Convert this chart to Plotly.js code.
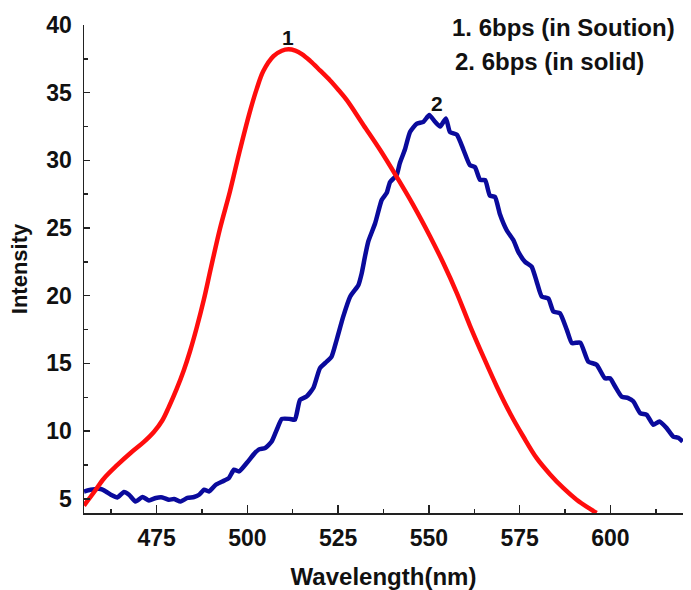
<!DOCTYPE html>
<html>
<head>
<meta charset="utf-8">
<script src="https://cdn.plot.ly/plotly-3.0.1.min.js"></script>
<style>html,body{margin:0;padding:0;background:#fff;}#chart{width:691px;height:590px;}</style>
</head>
<body>
<div id="chart"></div>
<script>
// Curve 1: 6bps in solution (red)
const solutionWavelength = [455, 457.8, 460.5, 464.2, 467.9, 471.5, 474.3, 476.6, 478.4, 480.5, 482.5, 484.2, 486, 488, 490, 492.5, 495.2, 497.8, 500.7, 502.6, 504.4, 507.2, 509.5, 511.3, 513.2, 515, 517.3, 520, 522.8, 525.1, 527.4, 532, 536.5, 541.1, 545.7, 550.3, 554, 557.7, 561.3, 565, 568.7, 572.4, 576, 579.7, 583.4, 587, 590.7, 594.4, 596.2];
const solutionIntensity = [4.5, 5.5, 6.5, 7.5, 8.4, 9.2, 9.95, 10.8, 11.8, 13.1, 14.5, 15.9, 17.6, 19.7, 22.1, 25.0, 27.7, 30.6, 33.6, 35.3, 36.6, 37.7, 38.1, 38.2, 38.1, 37.85, 37.35, 36.65, 35.9, 35.2, 34.45, 32.6, 30.8, 28.8, 26.7, 24.4, 22.4, 20.2, 17.8, 15.5, 13.3, 11.3, 9.6, 8.0, 6.8, 5.8, 4.93, 4.25, 3.95];

// Curve 2: 6bps in solid (blue)
const solidWavelength = [455, 456.8, 459.6, 461, 462.4, 464.2, 466, 467.4, 469.2, 471.1, 472.9, 474.8, 476.6, 478.4, 479.8, 481.6, 483.5, 485.3, 486.7, 488.1, 489.4, 491.3, 493.1, 494.9, 496.3, 497.7, 500, 501.8, 503.2, 504.9, 506.7, 508.1, 509.5, 511.7, 513.1, 514.5, 516.3, 518.2, 520, 521.9, 523.2, 524.6, 526.4, 528.3, 530.6, 531.5, 532.4, 533.3, 535.2, 537, 538.4, 539.3, 541.1, 542, 543.4, 544.8, 546.6, 548.5, 550.1, 551.7, 553.1, 554.7, 555.8, 557.7, 559.5, 561.3, 562.7, 564.1, 565.5, 566.8, 568.2, 569.6, 571.4, 573.3, 574.6, 576.5, 578.3, 579.7, 581.1, 582.9, 584.3, 586.1, 588, 589.4, 591.7, 593.9, 596.2, 598.5, 599.9, 601.3, 603.1, 604.9, 606.3, 608.2, 610, 611.8, 613.5, 615.5, 617.3, 618.7, 619.9];
const solidIntensity = [5.54, 5.67, 5.72, 5.54, 5.3, 5.1, 5.5, 5.3, 4.8, 5.13, 4.88, 5.06, 5.1, 4.93, 4.98, 4.8, 5.06, 5.13, 5.3, 5.67, 5.54, 6.04, 6.28, 6.53, 7.15, 7.02, 7.7, 8.3, 8.65, 8.75, 9.23, 10.1, 10.9, 10.9, 10.84, 12.3, 12.55, 13.2, 14.65, 15.14, 15.5, 16.74, 18.46, 19.93, 20.8, 21.66, 22.9, 24.0, 25.35, 27.07, 27.6, 28.4, 28.9, 29.8, 30.8, 32.1, 32.7, 32.85, 33.35, 32.85, 32.5, 33.1, 32.1, 31.9, 30.8, 29.65, 29.5, 28.55, 28.55, 27.4, 27.3, 26.0, 24.86, 24.1, 23.26, 22.5, 22.15, 21.04, 19.93, 19.8, 18.83, 18.71, 17.48, 16.5, 16.54, 15.14, 14.9, 13.9, 13.9, 13.3, 12.55, 12.44, 12.2, 11.33, 11.2, 10.47, 10.71, 10.22, 9.6, 9.5, 9.23];

const xTickVals = [475, 500, 525, 550, 575, 600];
const yTickVals = [5, 10, 15, 20, 25, 30, 35, 40];
const legendLines = ["1. 6bps (in Soution)", "2. 6bps (in solid)"];
const curveLabels = ["1", "2"];

const FONT = "Liberation Sans, Arial, sans-serif";

const traces = [
  {x: solidWavelength, y: solidIntensity, type: 'scatter', mode: 'lines',
   line: {color: '#0a0a9c', width: 4.5, shape: 'spline', smoothing: 0.5}, hoverinfo: 'skip'},
  {x: solutionWavelength, y: solutionIntensity, type: 'scatter', mode: 'lines',
   line: {color: '#ff0d0d', width: 4.5, shape: 'spline', smoothing: 1}, hoverinfo: 'skip'}
];

const tickFont = {family: FONT, size: 23, color: '#111', weight: 'bold'};

const layout = {
  width: 691, height: 590,
  margin: {l: 84, r: 8, t: 25, b: 77},
  paper_bgcolor: '#fff', plot_bgcolor: '#fff',
  showlegend: false,
  xaxis: {
    range: [455, 620], tickvals: xTickVals, ticktext: xTickVals.map(String),
    showgrid: false, zeroline: false, showline: true, linecolor: '#222', linewidth: 1.5,
    ticks: 'inside', ticklen: 8, tickwidth: 1.5, tickcolor: '#222',
    minor: {ticks: 'inside', ticklen: 4, tickwidth: 1.5, tickcolor: '#222', dtick: 12.5, tick0: 462.5, showgrid: false},
    tickfont: tickFont, ticklabelstandoff: 4,
    title: {text: 'Wavelength(nm)', font: {family: FONT, size: 24, color: '#111', weight: 'bold'}, standoff: 18}
  },
  yaxis: {
    range: [3.95, 40], tickvals: yTickVals, ticktext: yTickVals.map(String),
    showgrid: false, zeroline: false, showline: true, linecolor: '#222', linewidth: 1.5,
    ticks: 'inside', ticklen: 6, tickwidth: 1.5, tickcolor: '#222',
    minor: {ticks: 'inside', ticklen: 4, tickwidth: 1.5, tickcolor: '#222', dtick: 2.5, tick0: 2.5, showgrid: false},
    tickfont: tickFont, ticklabelstandoff: 6,
    title: {text: 'Intensity', font: {family: FONT, size: 22, color: '#111', weight: 'bold'}, standoff: 12}
  },
  annotations: [
    {x: 511.2, y: 39.1, xref: 'x', yref: 'y', text: curveLabels[0], showarrow: false,
     font: {family: FONT, size: 21, color: '#111', weight: 'bold'}, xanchor: 'center', yanchor: 'middle'},
    {x: 552.1, y: 34.2, xref: 'x', yref: 'y', text: curveLabels[1], showarrow: false,
     font: {family: FONT, size: 21, color: '#111', weight: 'bold'}, xanchor: 'center', yanchor: 'middle'},
    {x: 0.611, y: 0.994, xref: 'paper', yref: 'paper', text: legendLines[0], showarrow: false,
     font: {family: FONT, size: 24, color: '#111', weight: 'bold'}, xanchor: 'left', yanchor: 'middle'},
    {x: 0.616, y: 0.926, xref: 'paper', yref: 'paper', text: legendLines[1], showarrow: false,
     font: {family: FONT, size: 24, color: '#111', weight: 'bold'}, xanchor: 'left', yanchor: 'middle'}
  ]
};

Plotly.newPlot('chart', traces, layout, {displayModeBar: false, staticPlot: true});
</script>
</body>
</html>
